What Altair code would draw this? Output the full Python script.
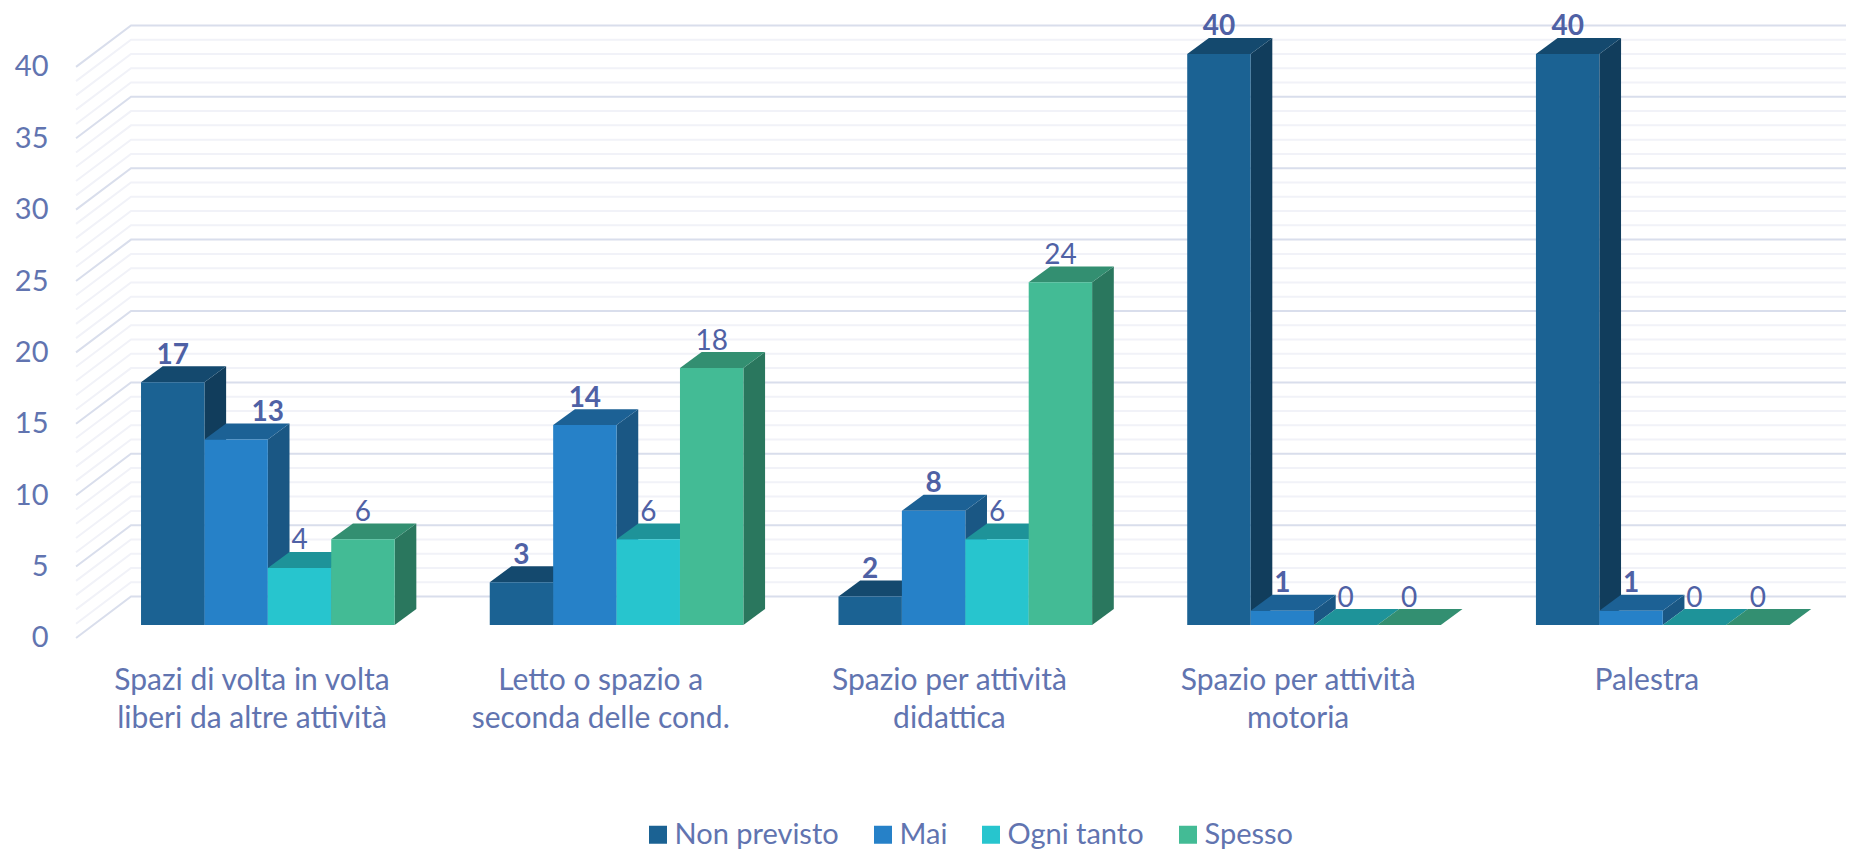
import altair as alt
import pandas as pd

categories = [
    ["Spazi di volta in volta", "liberi da altre attività"],
    ["Letto o spazio a", "seconda delle cond."],
    ["Spazio per attività", "didattica"],
    ["Spazio per attività", "motoria"],
    ["Palestra"],
]
series = ["Non previsto", "Mai", "Ogni tanto", "Spesso"]
non_previsto = [17, 3, 2, 40, 40]
mai = [13, 14, 8, 1, 1]
ogni_tanto = [4, 6, 6, 0, 0]
spesso = [6, 18, 24, 0, 0]
all_values = [non_previsto, mai, ogni_tanto, spesso]
y_ticks = [0, 5, 10, 15, 20, 25, 30, 35, 40]
minor_ticks = list(range(0, 41))

front_colors = ["#1B6293", "#2681C8", "#27C5CE", "#43BB95"]
top_colors = ["#14496E", "#1C6195", "#1E9399", "#338F71"]
side_colors = ["#113D5C", "#1A5784", "#1A8288", "#2A775E"]
text_color = "#6174B0"
label_color = "#4F61A5"
font = "Lato"

GROUP_STEP = 5.5
DX, DY = 0.342, 1.117
LIFT = 0.907
WALL_DX, WALL_DY = 0.867, 2.9
WALL_LEFT = -1.025
X_DOMAIN = [-1.341, 26.89]
Y_DOMAIN = [-14.85, 44.12]
label_shift = {(0, 1): 0.5}

x_scale = alt.Scale(domain=X_DOMAIN, nice=False, zero=False)
y_scale = alt.Scale(domain=Y_DOMAIN, nice=False, zero=False)
y_axis = alt.Axis(
    values=y_ticks, grid=False, domain=False, ticks=False, title=None,
    labelPadding=8, labelFont=font, labelFontSize=29, labelColor=text_color,
)

front, tops, sides, labels = [], [], [], []
for s, vals in enumerate(all_values):
    for g, v in enumerate(vals):
        u = g * GROUP_STEP + s
        top = v + LIFT
        bid = f"{g}-{s}"
        front.append(dict(x=u, x2=u + 1, y=LIFT, y2=top, series=series[s]))
        tops += [
            dict(id=bid, y=top, x=u, x2=u + 1, c=top_colors[s]),
            dict(id=bid, y=top + DY, x=u + DX, x2=u + 1 + DX, c=top_colors[s]),
        ]
        sides += [
            dict(id=bid, x=u + 1, y=LIFT, y2=top, c=side_colors[s]),
            dict(id=bid, x=u + 1 + DX, y=LIFT + DY, y2=top + DY, c=side_colors[s]),
        ]
        labels.append(dict(x=u + 0.5 + label_shift.get((g, s), 0), y=top + 1.85, t=str(v), bold=s < 2))

grid = []
for v in minor_ticks:
    major = v in y_ticks
    key = ("1-" if major else "0-") + str(v)
    c = "#D9DEEC" if major else "#F1F2F8"
    grid += [
        dict(id=key, x=WALL_LEFT, y=v, c=c, order=0),
        dict(id=key, x=WALL_LEFT + WALL_DX, y=v + WALL_DY, c=c, order=1),
        dict(id=key, x=X_DOMAIN[1], y=v + WALL_DY, c=c, order=2),
    ]
grid_df = pd.DataFrame(grid)

cat_rows = []
for g, lines in enumerate(categories):
    for i, line in enumerate(lines):
        cat_rows.append(dict(x=g * GROUP_STEP + 1.75, y=-3.0 - 2.68 * i, t=line))

X = lambda f="x": alt.X(f"{f}:Q", scale=x_scale, axis=None)
Y = lambda f="y": alt.Y(f"{f}:Q", scale=y_scale, axis=y_axis)
C = alt.Color("c:N", scale=None, legend=None)


def grid_layer(df):
    return alt.Chart(df).mark_line(strokeWidth=2).encode(
        x=X(), y=Y(), detail="id:N", order="order:Q", color=C,
    )


minor_layer = grid_layer(grid_df[grid_df.c == "#F1F2F8"])
major_layer = grid_layer(grid_df[grid_df.c == "#D9DEEC"])

side_layer = alt.Chart(pd.DataFrame(sides)).mark_area(opacity=1).encode(
    x=X(), y=Y(), y2="y2:Q", detail="id:N", color=C)
top_layer = alt.Chart(pd.DataFrame(tops)).mark_area(orient="horizontal", opacity=1).encode(
    y=Y(), x=X(), x2="x2:Q", detail="id:N", color=C)
front_layer = alt.Chart(pd.DataFrame(front)).mark_rect().encode(
    x=X(), x2="x2:Q", y=Y(), y2="y2:Q",
    color=alt.Color("series:N", scale=alt.Scale(domain=series, range=front_colors), legend=alt.Legend(
        orient="none", legendX=587.5, legendY=812, direction="horizontal", columns=4,
        title=None, symbolType="square", symbolSize=324, symbolStrokeWidth=0, symbolOpacity=1,
        labelFont=font, labelFontSize=29, labelColor=text_color, labelOffset=2,
        columnPadding=29, labelLimit=400,
    )),
)

ldf = pd.DataFrame(labels)
label_bold = alt.Chart(ldf[ldf.bold]).mark_text(
    font=font, fontSize=28, fontWeight="bold", color=label_color, baseline="middle", align="center"
).encode(x=X(), y=Y(), text="t:N")
label_plain = alt.Chart(ldf[~ldf.bold]).mark_text(
    font=font, fontSize=28, color=label_color, baseline="middle", align="center"
).encode(x=X(), y=Y(), text="t:N")
cat_layer = alt.Chart(pd.DataFrame(cat_rows)).mark_text(
    font=font, fontSize=30, color=text_color, baseline="middle", align="center"
).encode(x=X(), y=Y(), text="t:N")

chart = alt.layer(
    minor_layer, major_layer, side_layer, top_layer, front_layer, label_bold, label_plain, cat_layer
).resolve_scale(color="independent").properties(
    width=1790, height=842,
    autosize=alt.AutoSizeParams(type="none"),
    padding={"left": 48, "top": 0, "right": 0, "bottom": 0},
).configure_view(strokeWidth=0)

chart.save("out.html", embed_options={"renderer": "svg", "actions": False})
